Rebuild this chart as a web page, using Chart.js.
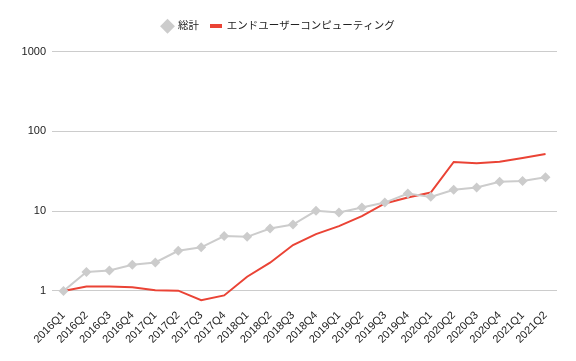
<!DOCTYPE html>
<html>
<head>
<meta charset="utf-8">
<script src="https://cdn.jsdelivr.net/npm/chart.js@4/dist/chart.umd.min.js"></script>
<style>
  html, body { margin: 0; padding: 0; background: #fff; }
  #wrap { width: 576px; height: 361px; }
</style>
</head>
<body>
<div id="wrap"><canvas id="chart" width="576" height="361"></canvas></div>
<script>
const quarters = [
  "2016Q1", "2016Q2", "2016Q3", "2016Q4",
  "2017Q1", "2017Q2", "2017Q3", "2017Q4",
  "2018Q1", "2018Q2", "2018Q3", "2018Q4",
  "2019Q1", "2019Q2", "2019Q3", "2019Q4",
  "2020Q1", "2020Q2", "2020Q3", "2020Q4",
  "2021Q1", "2021Q2",
];
const totalValues = [
  1, 1.73, 1.81, 2.13, 2.28, 3.19, 3.52, 4.87, 4.77, 6.07, 6.8,
  10.1, 9.6, 11.1, 12.8, 16.6, 15.1, 18.5, 19.8, 23.3, 23.9, 26.6,
];
const eucValues = [
  1, 1.14, 1.14, 1.11, 1.02, 1.01, 0.765, 0.88, 1.51, 2.26, 3.76,
  5.16, 6.49, 8.66, 12.5, 14.8, 17.1, 41.3, 39.8, 41.5, 46.4, 52,
];
const yTicks = [1, 10, 100, 1000];

// small red bar used as the legend marker of the line series
const redBar = document.createElement("canvas");
redBar.width = 12;
redBar.height = 4;
const rb = redBar.getContext("2d");
rb.fillStyle = "#ea4335";
rb.fillRect(0, 0, 12, 4);

// extra space between legend and plot
const legendGap = {
  id: "legendGap",
  beforeInit(chart) {
    const fit = chart.legend.fit;
    chart.legend.fit = function () {
      fit.call(this);
      this.height += 10;
    };
  },
};

Chart.defaults.font.family = "Arial, 'Liberation Sans', 'Noto Sans CJK JP', sans-serif";
Chart.defaults.font.size = 11;
Chart.defaults.color = "#222";

new Chart(document.getElementById("chart"), {
  type: "line",
  data: {
    labels: quarters,
    datasets: [
      {
        label: "総計",
        data: totalValues,
        borderColor: "#cccccc",
        backgroundColor: "#cccccc",
        borderWidth: 2,
        pointStyle: "rectRot",
        pointRadius: 5,
        pointBorderWidth: 0,
        tension: 0,
        clip: false,
      },
      {
        label: "エンドユーザーコンピューティング",
        data: eucValues,
        borderColor: "#ea4335",
        backgroundColor: "#ea4335",
        borderWidth: 2,
        pointRadius: 0,
        tension: 0,
        clip: false,
      },
    ],
  },
  plugins: [legendGap],
  options: {
    responsive: false,
    animation: false,
    layout: { padding: { left: 0, right: 19, top: 9, bottom: 5 } },
    plugins: {
      legend: {
        position: "top",
        labels: {
          usePointStyle: true,
          boxWidth: 11,
          boxHeight: 11,
          padding: 12,
          color: "#222",
          font: { size: 10.5 },
          generateLabels(chart) {
            const items = Chart.defaults.plugins.legend.labels.generateLabels(chart);
            items.forEach((item, i) => {
              item.lineWidth = 0;
              item.pointStyle = i === 0 ? "rectRot" : redBar;
            });
            return items;
          },
        },
      },
      tooltip: { enabled: false },
    },
    scales: {
      x: {
        offset: true,
        grid: { display: false },
        border: { display: false },
        ticks: {
          maxRotation: 45,
          minRotation: 45,
          autoSkip: false,
          padding: 10,
        },
      },
      y: {
        type: "logarithmic",
        min: 1,
        max: 1000,
        afterBuildTicks(scale) {
          scale.ticks = yTicks.map((v) => ({ value: v }));
        },
        afterFit(scale) {
          scale.width = 52;
        },
        grid: { color: "#cccccc", drawTicks: false },
        border: { display: false },
        ticks: {
          padding: 6,
          callback(value) {
            return String(value);
          },
        },
      },
    },
  },
});
</script>
</body>
</html>
